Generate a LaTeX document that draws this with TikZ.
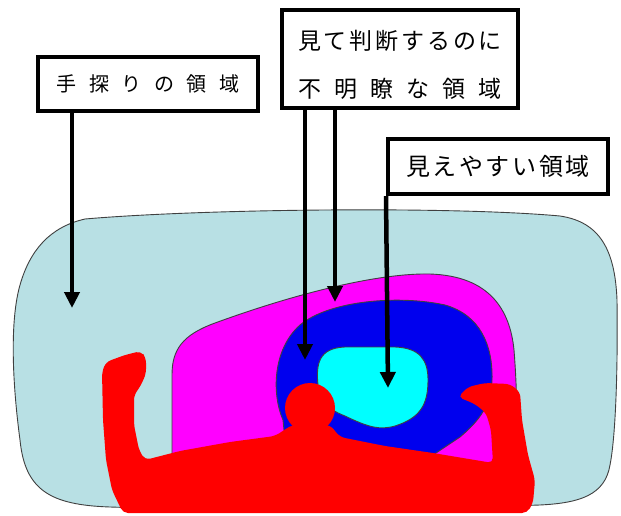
\documentclass[tikz,border=0pt]{standalone}
\usepackage{fontspec}
\newfontfamily\jpfont{Noto Sans CJK JP}
\usetikzlibrary{arrows.meta}
\definecolor{zonepale}{RGB}{184,224,228}
\definecolor{zonemag}{RGB}{255,0,255}
\definecolor{zoneblue}{RGB}{0,0,238}
\definecolor{zonecyan}{RGB}{0,255,255}
\definecolor{bodyred}{RGB}{255,0,0}

\begin{document}
\begin{tikzpicture}[
    x=1pt, y=-1pt,
    tagbox/.style={draw, line width=4pt, fill=white, inner sep=0pt, align=center},
    zone/.style={draw=black!75, line width=0.9pt},
    arr/.style={line width=4.5pt, -{Triangle[length=16pt,width=15pt]}}
  ]
  \useasboundingbox (0,0) rectangle (621,516);

  % field around the body
  \draw[zone, fill=zonepale] (85,219) .. controls (200,209) and (450,206) .. (560,216)
    .. controls (600,222) and (615,250) .. (617,300)
    .. controls (618,380) and (615,440) .. (610,465)
    .. controls (605,495) and (580,503) .. (540,505)
    .. controls (400,510) and (200,510) .. (110,507)
    .. controls (50,505) and (25,490) .. (20,440)
    .. controls (12,380) and (10,320) .. (20,285)
    .. controls (30,250) and (50,227) .. cycle;
  \draw[zone, fill=zonemag] (172,470) -- (172,375)
    .. controls (172,350) and (182,335) .. (215,323)
    .. controls (300,292) and (380,273) .. (430,274)
    .. controls (490,276) and (510,310) .. (514,350)
    .. controls (518,400) and (517,440) .. (515,475)
    -- cycle;
  \draw[zone, fill=zoneblue] (283,420) .. controls (272,395) and (272,350) .. (300,325)
    .. controls (330,300) and (400,295) .. (445,305)
    .. controls (480,315) and (493,345) .. (492,380)
    .. controls (491,405) and (480,420) .. (460,437)
    -- (433,455) -- (300,460) -- (285,440) -- cycle;
  \draw[zone, fill=zonecyan] (318,385) .. controls (316,365) and (318,348) .. (345,347)
    -- (395,347) .. controls (420,348) and (428,360) .. (428,380)
    .. controls (428,405) and (420,418) .. (395,426)
    .. controls (380,430) and (370,428) .. (345,416)
    .. controls (325,408) and (320,400) .. cycle;

  % the person
  \fill[bodyred, rounded corners=5pt] (123,513) -- (112,490) -- (106,460) -- (103,420)
    -- (102,372) -- (106,362) -- (125,355) -- (141,351) -- (146,358) -- (146,374)
    -- (140,387) -- (134,395) -- (134,425) -- (139,450) -- (145,460) -- (180,451)
    -- (230,442) -- (275,436) -- (292,425) -- (330,425) -- (340,437) -- (385,446)
    -- (433,453) -- (475,460) -- (493,463) -- (491,430) -- (486,413) -- (475,404)
    -- (458,397) -- (468,387) -- (485,383) -- (510,384) -- (520,392) -- (522,420)
    -- (528,455) -- (535,480) -- (533,503) -- (527,513) -- cycle;
  \fill[bodyred] (310,408) circle[radius=25pt];

  % captions
  \node[tagbox, minimum width=220pt, minimum height=54pt,
        font=\jpfont\fontsize{20}{24}\selectfont] (hand) at (148,84)
    {\makebox[183pt]{手\hfill 探\hfill り\hfill の\hfill 領\hfill 域}};
  \node[tagbox, minimum width=236pt, minimum height=98pt,
        font=\jpfont\fontsize{23}{48}\selectfont] (blur) at (400,59)
    {\rule{0pt}{32pt}\makebox[204pt]{見\hfill て\hfill 判\hfill 断\hfill す\hfill る\hfill の\hfill に}\\
     \makebox[204pt]{不\hfill 明\hfill 瞭\hfill な\hfill 領\hfill 域}};
  \node[tagbox, minimum width=220pt, minimum height=55pt,
        font=\jpfont\fontsize{24}{28}\selectfont] (seen) at (498,166.5)
    {\makebox[184pt]{見\hfill え\hfill や\hfill す\hfill い\hfill 領\hfill 域}};

  \coordinate (t1) at (72,308);
  \coordinate (t2) at (305,360);
  \coordinate (t3) at (335,302);
  \coordinate (t4) at (388,388);
  \draw[arr] (hand.south -| t1) -- (t1);
  \draw[arr] (blur.south -| t2) -- (t2);
  \draw[arr] (blur.south -| t3) -- (t3);
  \draw[arr] (seen.south west) -- (t4);
\end{tikzpicture}
\end{document}
